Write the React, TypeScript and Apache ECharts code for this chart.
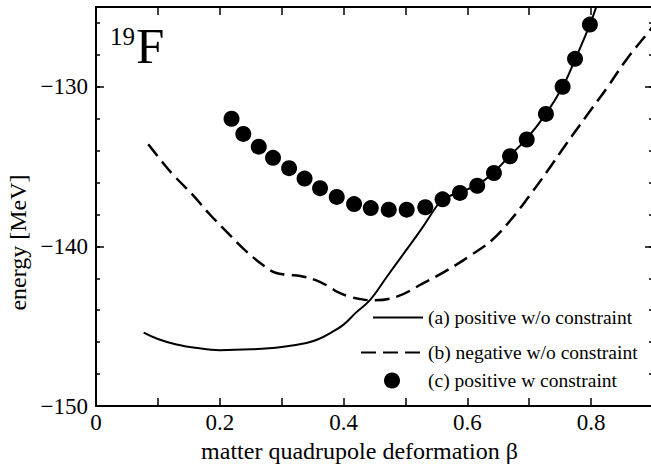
import React, { useEffect, useRef } from 'react';
import * as echarts from 'echarts';

// (a) positive deformation without constraint (solid line)
const solidA: [number, number][] = [
  [0.077, -145.4], [0.1, -145.8], [0.13, -146.15], [0.16, -146.35], [0.2, -146.5],
  [0.25, -146.45], [0.3, -146.3], [0.34, -146.05], [0.36, -145.8], [0.38, -145.4],
  [0.4, -144.9], [0.42, -144.15], [0.443, -143.35], [0.47, -141.9], [0.5, -140.3],
  [0.526, -138.9], [0.55, -137.5], [0.56, -137.05], [0.588, -136.6], [0.616, -136.15],
  [0.643, -135.35], [0.669, -134.3], [0.696, -133.25], [0.727, -131.7], [0.754, -130.0],
  [0.774, -128.3], [0.798, -126.1], [0.81, -124.8],
];

// (b) negative deformation without constraint (dashed line)
const dashedB: [number, number][] = [
  [0.0845, -133.6], [0.11, -134.85], [0.128, -135.65], [0.157, -136.8], [0.184, -138.0],
  [0.214, -139.2], [0.241, -140.25], [0.273, -141.27], [0.29, -141.65], [0.31, -141.78],
  [0.33, -141.85], [0.354, -142.1], [0.378, -142.55], [0.39, -142.85], [0.41, -143.15],
  [0.43, -143.32], [0.448, -143.38], [0.486, -143.15], [0.529, -142.3], [0.567, -141.5],
  [0.604, -140.6], [0.64, -139.6], [0.67, -138.35], [0.7, -136.85], [0.73, -135.25],
  [0.755, -133.85], [0.793, -131.8], [0.825, -130.1], [0.857, -128.3], [0.892, -126.6],
  [0.9, -126.2],
];

// (c) positive deformation with constraint (dots)
const dotsC: [number, number][] = [
  [0.219, -132.0], [0.238, -132.95], [0.263, -133.75], [0.286, -134.45], [0.312, -135.1],
  [0.337, -135.75], [0.362, -136.35], [0.389, -136.9], [0.417, -137.35], [0.444, -137.6],
  [0.473, -137.7], [0.502, -137.7], [0.532, -137.55], [0.56, -137.05], [0.588, -136.65],
  [0.616, -136.2], [0.643, -135.4], [0.669, -134.35], [0.696, -133.3], [0.727, -131.7],
  [0.754, -130.0], [0.774, -128.25], [0.798, -126.1],
];

const seriesNames = [
  '(a) positive w/o constraint',
  '(b) negative w/o constraint',
  '(c) positive w constraint',
];

const xRange = { min: 0, max: 0.9, step: 0.1 };
const yRange = { min: -150, max: -125, major: 10, minor: 2 };
const xTitle = 'matter quadrupole deformation β';
const yTitle = 'energy [MeV]';
const nucleusMass = '19';
const nucleusSymbol = 'F';

export default function App() {
  const ref = useRef<HTMLDivElement>(null);

  useEffect(() => {
    if (!ref.current) return;
    const chart = echarts.init(ref.current, null, { renderer: 'svg' });
    const font = "'Liberation Serif', 'Times New Roman', serif";
    const black = '#000';
    const tickStyle = { color: black, width: 1.5 };
    const lineStyle = { color: black, width: 2 };

    const xLabel = (v: number) => {
      const k = Math.round(v * 10);
      if (k % 2 !== 0) return '';
      return k === 0 ? '0' : (k / 10).toFixed(1);
    };
    const yLabel = (v: number) =>
      Math.round(v) % 10 === 0 ? '\u2212' + Math.abs(Math.round(v)) : '';

    const yCommon = {
      type: 'value' as const,
      min: yRange.min,
      max: yRange.max,
      splitLine: { show: false },
    };
    const xCommon = {
      type: 'value' as const,
      min: xRange.min,
      max: xRange.max,
      interval: xRange.step,
      splitLine: { show: false },
      axisLine: { show: true, onZero: false, lineStyle },
      axisTick: { show: true, inside: true, length: 8, lineStyle: tickStyle },
    };

    const legendBase = {
      orient: 'vertical' as const,
      left: 360,
      padding: 0,
      itemWidth: 62,
      itemHeight: 16,
      selectedMode: false,
      textStyle: { fontFamily: font, fontSize: 19.5, color: black },
    };

    chart.setOption({
      animation: false,
      backgroundColor: '#fff',
      grid: {
        left: 96,
        right: -2,
        top: 7,
        bottom: 58,
        containLabel: false,
        outerBoundsMode: 'none',
      },
      legend: [
        {
          ...legendBase,
          data: [seriesNames[0]],
          top: 307.5,
          left: 372,
          itemWidth: 50,
          itemStyle: { opacity: 0 },
        },
        { ...legendBase, data: [seriesNames[1]], top: 342.5, itemStyle: { opacity: 0 } },
        { ...legendBase, data: [seriesNames[2]], top: 370.5, left: 384 },
      ],
      xAxis: [
        {
          ...xCommon,
          position: 'bottom',
          axisLabel: {
            formatter: xLabel,
            fontFamily: font,
            fontSize: 23,
            color: black,
            margin: 5,
          },
          name: xTitle,
          nameLocation: 'middle',
          nameGap: 12,
          nameTextStyle: {
            fontFamily: font,
            fontSize: 24,
            color: black,
            padding: [0, 30, 0, 0],
          },
        },
        {
          ...xCommon,
          position: 'top',
          axisLabel: { show: false },
        },
      ],
      yAxis: [
        {
          ...yCommon,
          position: 'left',
          interval: yRange.major,
          axisLine: { show: true, onZero: false, lineStyle },
          axisTick: { show: true, inside: true, length: 8, lineStyle: tickStyle },
          axisLabel: {
            formatter: yLabel,
            fontFamily: font,
            fontSize: 23,
            color: black,
            margin: 8,
          },
          name: yTitle,
          nameLocation: 'middle',
          nameGap: 66,
          nameTextStyle: {
            fontFamily: font,
            fontSize: 24,
            color: black,
            padding: [0, 72, 0, 0],
          },
        },
        {
          ...yCommon,
          position: 'left',
          interval: yRange.minor,
          axisLine: { show: false, onZero: false },
          axisTick: { show: true, inside: true, length: 4, lineStyle: tickStyle },
          axisLabel: { show: false },
        },
        {
          ...yCommon,
          position: 'right',
          interval: yRange.major,
          axisLine: { show: true, onZero: false, lineStyle },
          axisTick: { show: true, inside: true, length: 8, lineStyle: tickStyle },
          axisLabel: { show: false },
        },
        {
          ...yCommon,
          position: 'right',
          interval: yRange.minor,
          axisLine: { show: false, onZero: false },
          axisTick: { show: true, inside: true, length: 4, lineStyle: tickStyle },
          axisLabel: { show: false },
        },
      ],
      graphic: [
        {
          type: 'text',
          x: 110,
          y: 36.5,
          style: {
            text: nucleusMass,
            font: `25px ${font}`,
            fill: black,
            align: 'left',
            verticalAlign: 'middle',
          },
        },
        {
          type: 'text',
          x: 136,
          y: 46,
          style: {
            text: nucleusSymbol,
            font: `51px ${font}`,
            fill: black,
            align: 'left',
            verticalAlign: 'middle',
          },
        },
      ],
      series: [
        {
          name: seriesNames[0],
          type: 'line',
          data: solidA,
          symbol: 'none',
          smooth: 0.4,
          clip: true,
          lineStyle: { color: black, width: 2 },
          itemStyle: { color: black },
          z: 2,
        },
        {
          name: seriesNames[1],
          type: 'line',
          data: dashedB,
          symbol: 'none',
          smooth: 0.4,
          clip: true,
          lineStyle: { color: black, width: 2.5, type: [15, 7] },
          itemStyle: { color: black },
          z: 2,
        },
        {
          name: seriesNames[2],
          type: 'scatter',
          data: dotsC,
          symbol: 'circle',
          symbolSize: 16,
          itemStyle: { color: black, opacity: 1 },
          z: 3,
        },
      ],
    });

    return () => chart.dispose();
  }, []);

  return (
    <div
      ref={ref}
      style={{ position: 'fixed', left: 0, top: 0, width: 651, height: 464, background: '#fff' }}
    />
  );
}
